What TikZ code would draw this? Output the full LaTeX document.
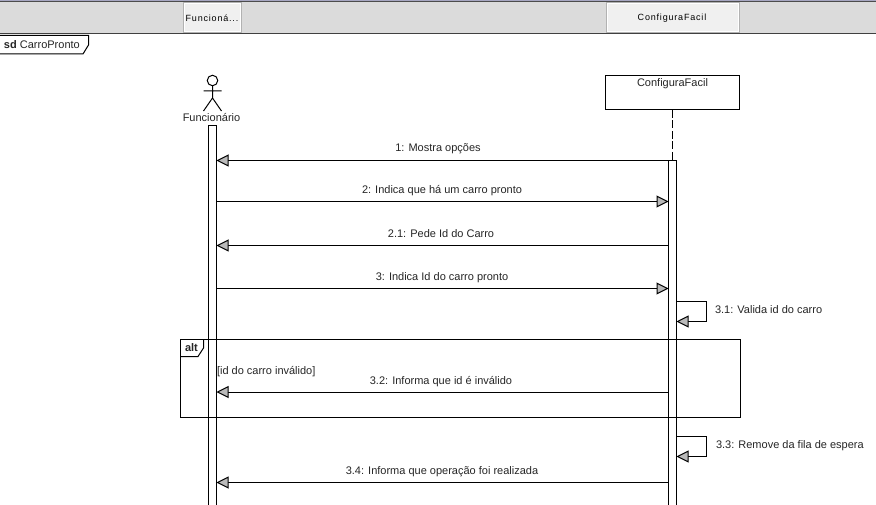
\documentclass[tikz,border=0pt]{standalone}
\usepackage{fontspec}
\setmainfont{Liberation Sans}
\usetikzlibrary{arrows.meta}
\tikzset{
  x=1pt,y=-1pt,
  every node/.style={font=\fontsize{11}{12}\selectfont,text=black!85,inner sep=0pt,outer sep=0pt},
  ln/.style={draw=black,line width=1pt},
  tabbox/.style={draw=black!30,line width=1pt,fill=black!6,anchor=north west,minimum height=30pt},
  tabinner/.style={draw=white,line width=1pt,anchor=north west,minimum height=28pt},
  tabtext/.style={font=\fontsize{9}{11}\selectfont\addfontfeature{LetterSpace=9},text=black},
  msg/.style={ln,-{Triangle[length=12pt,width=12pt,fill=black!27,line width=1pt]}},
  bar/.style={ln,fill=white,anchor=north west,minimum width=8pt},
  mlabel/.style={anchor=base},
  slabel/.style={anchor=base west}
}
\begin{document}
\begin{tikzpicture}
\useasboundingbox (0,0) rectangle (876,505);
\fill[white] (0,0) rectangle (876,505);
% header
\fill[black!14] (0,2) rectangle (876,33);
\fill[blue!30!black!35] (0,0) rectangle (876,1);
\fill[black!70] (0,1) rectangle (876,2);
\fill[black!75] (0,33) rectangle (876,34.5);
\node[tabbox,minimum width=58pt] (tabF) at (183,3) {};
\node[tabbox,minimum width=133pt] (tabC) at (606,3) {};
\node[tabinner,minimum width=56pt] (tabFi) at (184,4) {};
\node[tabinner,minimum width=131pt] (tabCi) at (607,4) {};
\node[tabtext] (tabFt) at (212,18.5) {Funcioná...};
\node[tabtext] (tabCt) at (672,18.5) {ConfiguraFacil};
% sd frame
\draw[ln,fill=white] (-2,35.5) -- (88.5,35.5) -- (88.5,45) -- (83,54) -- (-2,54);
\node[anchor=base west] (sd) at (4,49) {\textbf{sd} CarroPronto};
% lifelines
\node[ln,anchor=north west,minimum width=134pt,minimum height=34.5pt] (boxC) at (605.5,75.5) {};
\node[anchor=base] (boxCt) at (672.5,87) {ConfiguraFacil};
\node[bar,minimum height=380pt] (barF) at (208.5,125.5) {};
\node[bar,minimum height=345pt] (barC) at (668.5,160.5) {};
\draw[ln,dash pattern=on 8pt off 2.5pt] (boxC.south) -- (boxC.south |- barC.north);
% actor
\node[draw=black,line width=1pt,circle,minimum size=10.5pt,fill=white] (head) at (212.5,80.5) {};
\coordinate (hip) at (212.5,98);
\coordinate (armL) at (203.5,91);
\coordinate (armR) at (221.5,91);
\coordinate (legL) at (203.5,111);
\coordinate (legR) at (221.5,111);
\draw[ln] (head.south) -- (hip) (armL) -- (armR) (legL) -- (hip) -- (legR);
\node[anchor=base] (actor) at (211.5,122) {Funcionário};
% alt frame
\draw[ln] (180.5,339.5) rectangle (740.5,417.5);
\node[anchor=base west,font=\fontsize{11}{12}\selectfont\bfseries] (alt) at (185,351) {alt};
\draw[ln] (180.5,356.5) -- (198,356.5) -- (203.5,348) -- (203.5,339.5);
\node[anchor=base west] (guard) at (217,374) {[id do carro inválido]};
% message levels
\coordinate (y1) at (0,160.5);
\coordinate (y2) at (0,201.5);
\coordinate (y3) at (0,245.5);
\coordinate (y4) at (0,288.5);
\coordinate (y5) at (0,392);
\coordinate (y6) at (0,482.5);
\draw[msg] (barC.west |- y1) -- (barF.east |- y1);
\draw[msg] (barF.east |- y2) -- (barC.west |- y2);
\draw[msg] (barC.west |- y3) -- (barF.east |- y3);
\draw[msg] (barF.east |- y4) -- (barC.west |- y4);
\draw[msg] (barC.west |- y5) -- (barF.east |- y5);
\draw[msg] (barC.west |- y6) -- (barF.east |- y6);
% self messages
\coordinate (s1a) at (0,301.5);
\coordinate (s1b) at (0,321.5);
\coordinate (s2a) at (0,436.5);
\coordinate (s2b) at (0,456.5);
\draw[msg] (barC.east |- s1a) -- (706.5,301.5) -- (706.5,321.5) -- (barC.east |- s1b);
\draw[msg] (barC.east |- s2a) -- (706.5,436.5) -- (706.5,456.5) -- (barC.east |- s2b);
% labels
\node[mlabel] (l1) at (438,151.5) {1: Mostra opções};
\node[mlabel] (l2) at (442,193.5) {2: Indica que há um carro pronto};
\node[mlabel] (l3) at (441,237.5) {2.1: Pede Id do Carro};
\node[mlabel] (l4) at (442,280.5) {3: Indica Id do carro pronto};
\node[slabel] (l5) at (715,313) {3.1: Valida id do carro};
\node[mlabel] (l6) at (441,384) {3.2: Informa que id é inválido};
\node[slabel] (l7) at (716,448) {3.3: Remove da fila de espera};
\node[mlabel] (l8) at (442,474) {3.4: Informa que operação foi realizada};
\end{tikzpicture}
\end{document}
